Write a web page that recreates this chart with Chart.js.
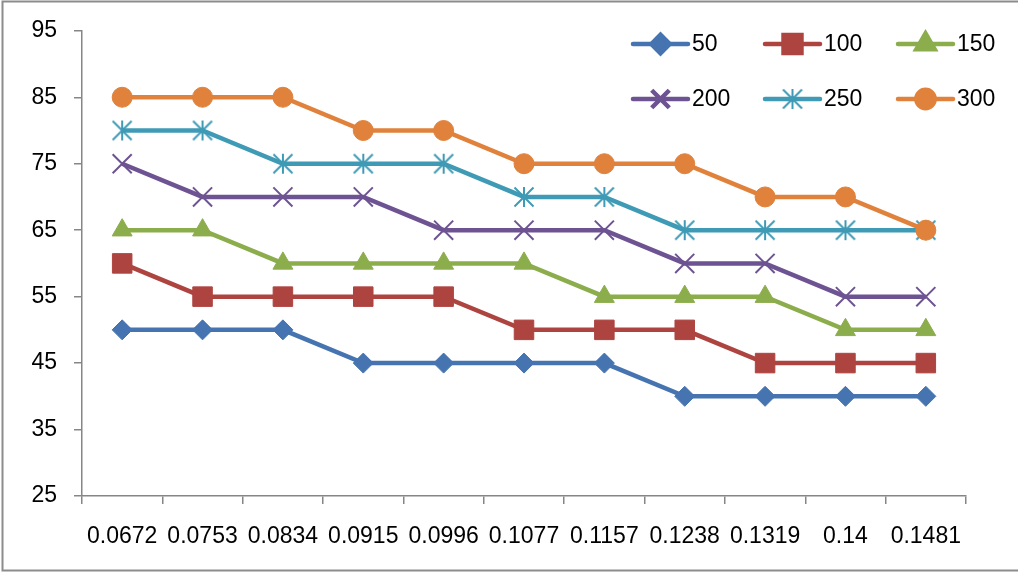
<!DOCTYPE html>
<html>
<head>
<meta charset="utf-8">
<script src="https://cdn.jsdelivr.net/npm/chart.js@4/dist/chart.umd.min.js"></script>
<style>
  html, body { margin: 0; padding: 0; background: #fff; }
  canvas { display: block; }
</style>
</head>
<body>
<canvas id="c" width="1018" height="572"></canvas>
<script>
// Category labels along the x axis
const categories = ['0.0672', '0.0753', '0.0834', '0.0915', '0.0996', '0.1077', '0.1157', '0.1238', '0.1319', '0.14', '0.1481'];

// One series per legend entry
const seriesNames = ['50', '100', '150', '200', '250', '300'];
const s50  = [50, 50, 50, 45, 45, 45, 45, 40, 40, 40, 40];
const s100 = [60, 55, 55, 55, 55, 50, 50, 50, 45, 45, 45];
const s150 = [65, 65, 60, 60, 60, 60, 55, 55, 55, 50, 50];
const s200 = [75, 70, 70, 70, 65, 65, 65, 60, 60, 55, 55];
const s250 = [80, 80, 75, 75, 75, 70, 70, 65, 65, 65, 65];
const s300 = [85, 85, 85, 80, 80, 75, 75, 75, 70, 70, 65];

// Value axis range
const yMin = 25, yMax = 95, yStep = 10;

const FONT = { family: '"Liberation Sans", Arial, sans-serif', size: 23 };
const AXIS_GREY = '#868686';

// Asterisk-style marker: an X with a vertical bar through it
function makeStar(color) {
  const c = document.createElement('canvas');
  c.width = 24; c.height = 24;
  const g = c.getContext('2d');
  g.strokeStyle = color;
  g.lineWidth = 2;
  g.beginPath();
  g.moveTo(2.5, 2.5); g.lineTo(21.5, 21.5);
  g.moveTo(21.5, 2.5); g.lineTo(2.5, 21.5);
  g.moveTo(12, 2); g.lineTo(12, 22);
  g.stroke();
  return c;
}

const colors = ['#4674B0', '#AE4440', '#8CAD4C', '#6E5393', '#3F9AB5', '#E0823B'];
const seriesValues = [s50, s100, s150, s200, s250, s300];
const markers = [
  { style: 'rectRot',  radius: 10,   bw: 1 },
  { style: 'rect',     radius: 13.8, bw: 1 },
  { style: 'triangle', radius: 11.5, bw: 1 },
  { style: 'crossRot', radius: 13.5, bw: 2 },
  { style: makeStar(colors[4]), radius: 12, bw: 2 },
  { style: 'circle',   radius: 10,   bw: 1 }
];

const datasets = seriesNames.map((name, i) => ({
  label: name,
  data: seriesValues[i],
  borderColor: colors[i],
  backgroundColor: colors[i],
  borderWidth: 4.5,
  tension: 0,
  pointStyle: markers[i].style,
  pointRadius: markers[i].radius,
  pointHoverRadius: markers[i].radius,
  pointBorderWidth: markers[i].bw,
  pointBorderColor: colors[i],
  pointBackgroundColor: colors[i],
  order: seriesNames.length - i,   // later series drawn on top
  clip: false
}));

// White background, outer frame and a two-row line-plus-marker legend
const framePlugin = {
  id: 'frame',
  beforeDraw(chart) {
    const ctx = chart.ctx;
    ctx.save();
    ctx.fillStyle = '#fff';
    ctx.fillRect(0, 0, chart.width, chart.height);
    ctx.restore();
  },
  afterDraw(chart) {
    const ctx = chart.ctx;
    ctx.save();
    ctx.strokeStyle = '#8c8c8c';
    ctx.lineWidth = 2;
    ctx.strokeRect(2.5, 1.5, 1200, 569);

    const colX = [633, 765, 898];
    const rowY = [44, 99];
    const lineLen = 55;
    chart.data.datasets.forEach((d, i) => {
      const x0 = colX[i % 3];
      const y = rowY[Math.floor(i / 3)];
      ctx.strokeStyle = d.borderColor;
      ctx.lineWidth = 4.5;
      ctx.lineCap = 'round';
      ctx.beginPath();
      ctx.moveTo(x0, y);
      ctx.lineTo(x0 + lineLen, y);
      ctx.stroke();
      ctx.lineCap = 'butt';
      ctx.fillStyle = d.backgroundColor;
      ctx.strokeStyle = d.borderColor;
      Chart.helpers.drawPoint(ctx, {
        pointStyle: d.pointStyle,
        radius: d.pointRadius * 0.92,
        borderWidth: d.pointBorderWidth,
        rotation: 0
      }, x0 + lineLen / 2, y);
      ctx.fillStyle = '#000';
      ctx.font = FONT.size + 'px ' + FONT.family;
      ctx.textBaseline = 'middle';
      ctx.textAlign = 'left';
      ctx.fillText(d.label, x0 + lineLen + 4, y + 1);
    });
    ctx.restore();
  }
};

new Chart(document.getElementById('c'), {
  type: 'line',
  data: { labels: categories, datasets },
  options: {
    responsive: false,
    animation: false,
    events: [],
    layout: { padding: { left: 0, top: 29.5, right: 52, bottom: 0 } },
    plugins: { legend: { display: false }, tooltip: { enabled: false } },
    scales: {
      x: {
        type: 'category',
        offset: true,
        afterFit(scale) { scale.height = 76; },
        grid: {
          display: true, drawOnChartArea: false, offset: true,
          tickLength: 8, color: AXIS_GREY, lineWidth: 1.5
        },
        border: { display: true, color: AXIS_GREY, width: 1.5 },
        ticks: { font: FONT, color: '#000', padding: 19, maxRotation: 0, autoSkip: false }
      },
      y: {
        min: yMin, max: yMax,
        afterFit(scale) { scale.width = 82; },
        grid: {
          display: true, drawOnChartArea: false,
          tickLength: 8, color: AXIS_GREY, lineWidth: 1.5
        },
        border: { display: true, color: AXIS_GREY, width: 1.5 },
        ticks: { stepSize: yStep, font: FONT, color: '#000', padding: 17 }
      }
    }
  },
  plugins: [framePlugin]
});
</script>
</body>
</html>
